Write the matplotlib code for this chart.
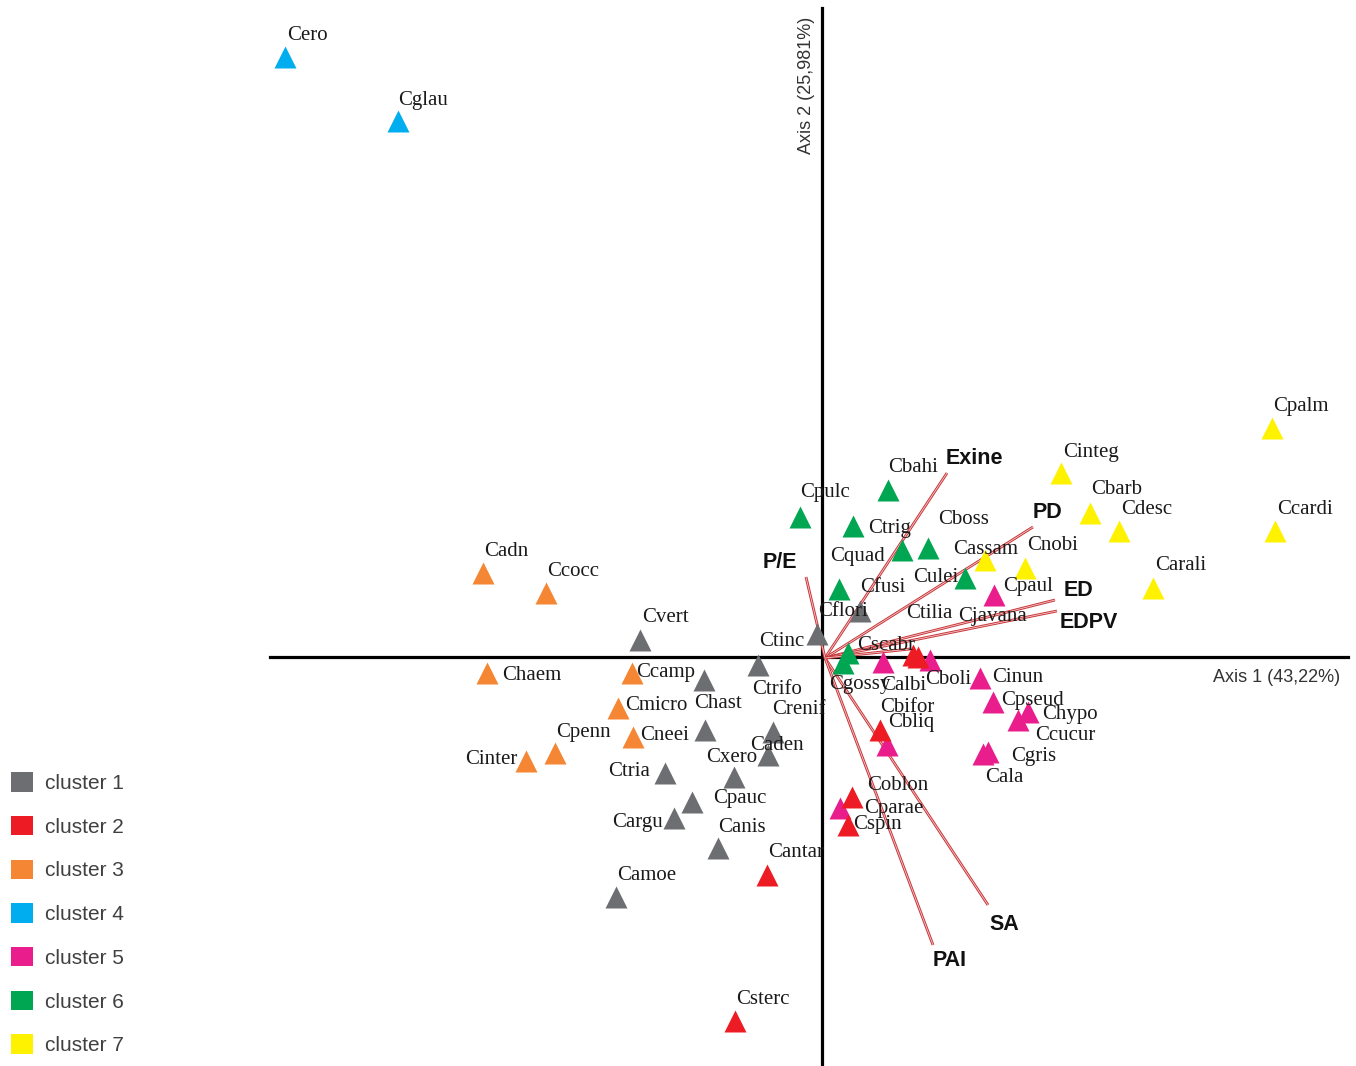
import matplotlib
matplotlib.use('Agg')
import matplotlib.pyplot as plt
from matplotlib.patches import Patch

# PCA scores (axis units)
names = ['Cero', 'Cglau',
         'Cpalm', 'Ccardi', 'Cinteg', 'Cbarb', 'Cdesc', 'Carali', 'Cnobi', 'Cassam',
         'Cbahi', 'Cpulc', 'Ctrig', 'Cquad', 'Cboss', 'Cfusi', 'Culei', 'Cscabr', 'Cgossy',
         'Cpaul', 'Calbi', 'Cboli', 'Cinun', 'Cpseud', 'Chypo', 'Ccucur', 'Cbliq', 'Cgris', 'Cala', 'Cparae',
         'Ctilia', 'Cjavana', 'Cbifor', 'Coblon', 'Cspin', 'Cantar', 'Csterc',
         'Cvert', 'Ctinc', 'Cflori', 'Ctrifo', 'Chast', '', 'Crenif', 'Caden', 'Ctria', 'Cxero',
         'Cpauc', 'Cargu', 'Canis', 'Camoe',
         'Cadn', 'Ccocc', 'Chaem', 'Ccamp', 'Cmicro', 'Cneei', 'Cpenn', 'Cinter']
cluster = [4, 4,
           7, 7, 7, 7, 7, 7, 7, 7,
           6, 6, 6, 6, 6, 6, 6, 6, 6,
           5, 5, 5, 5, 5, 5, 5, 5, 5, 5, 5,
           2, 2, 2, 2, 2, 2, 2,
           1, 1, 1, 1, 1, 1, 1, 1, 1, 1,
           1, 1, 1, 1,
           3, 3, 3, 3, 3, 3, 3, 3]
x = [-5.37, -4.24,
     4.50, 4.53, 2.39, 2.68, 2.97, 3.31, 2.03, 1.63,
     0.66, -0.22, 0.31, 0.80, 1.06, 0.17, 1.43, 0.26, 0.21,
     1.72, 0.61, 1.08, 1.58, 1.71, 2.06, 1.96, 0.65, 1.66, 1.61, 0.18,
     0.91, 0.96, 0.58, 0.30, 0.26, -0.55, -0.87,
     -1.82, -0.05, 0.38, -0.64, -1.18, -1.17, -0.49, -0.54, -1.57, -0.88,
     -1.30, -1.48, -1.04, -2.06,
     -3.39, -2.76, -3.35, -1.90, -2.04, -1.89, -2.67, -2.96]
y = [6.00, 5.36,
     2.29, 1.26, 1.84, 1.44, 1.26, 0.69, 0.89, 0.97,
     1.67, 1.40, 1.31, 1.07, 1.09, 0.68, 0.79, 0.04, -0.06,
     0.62, -0.05, -0.03, -0.21, -0.45, -0.55, -0.63, -0.88, -0.95, -0.97, -1.51,
     0.02, 0.00, -0.73, -1.40, -1.68, -2.18, -3.64,
     0.17, 0.23, 0.46, -0.08, -0.23, -0.73, -0.75, -0.98, -1.16, -1.20,
     -1.45, -1.61, -1.91, -2.40,
     0.84, 0.64, -0.16, -0.16, -0.51, -0.80, -0.96, -1.04]

# variable loadings
var_names = ['Exine', 'PD', 'ED', 'EDPV', 'P/E', 'SA', 'PAI', '']
var_x = [1.25, 2.11, 2.33, 2.35, -0.16, 1.66, 1.11, 0.88]
var_y = [1.84, 1.30, 0.57, 0.46, 0.80, -2.48, -2.88, 0.08]

colors = {1: '#6d6e71', 2: '#ed1c24', 3: '#f58634', 4: '#00aeef',
          5: '#e91e8c', 6: '#00a651', 7: '#fff200'}

# label offsets (left edge / vertical centre), in axis units
lab_off = {
    'Cero': (0.02, 0.22), 'Cglau': (0.0, 0.21), 'Cpalm': (0.01, 0.22), 'Ccardi': (0.02, 0.22),
    'Cinteg': (0.02, 0.21), 'Cbarb': (0.01, 0.23), 'Cdesc': (0.02, 0.21), 'Carali': (0.02, 0.22),
    'Cnobi': (0.02, 0.23), 'Cassam': (-0.32, 0.10), 'Cbahi': (0.0, 0.23), 'Cpulc': (0.0, 0.24),
    'Ctrig': (0.15, -0.03), 'Cquad': (-0.72, -0.07), 'Cboss': (0.10, 0.28), 'Cfusi': (0.21, 0.01),
    'Culei': (-0.52, 0.0), 'Cscabr': (0.09, 0.08), 'Cgossy': (-0.14, -0.22), 'Cpaul': (0.09, 0.08),
    'Calbi': (-0.02, -0.23), 'Cboli': (-0.05, -0.20), 'Cinun': (0.12, 0.0), 'Cpseud': (0.08, 0.01),
    'Chypo': (0.14, -0.03), 'Ccucur': (0.17, -0.15), 'Cbliq': (0.01, 0.23), 'Cgris': (0.23, -0.05),
    'Cala': (0.02, -0.24), 'Cparae': (0.24, 0.0), 'Ctilia': (-0.07, 0.42), 'Cjavana': (0.40, 0.40),
    'Cbifor': (0.0, 0.23), 'Coblon': (0.15, 0.11), 'Cspin': (0.05, 0.01), 'Cantar': (0.01, 0.23),
    'Csterc': (0.01, 0.21), 'Cvert': (0.02, 0.22), 'Ctinc': (-0.58, -0.08), 'Cflori': (-0.42, -0.01),
    'Ctrifo': (-0.06, -0.25), 'Chast': (-0.10, -0.24), 'Crenif': (-0.01, 0.23), 'Caden': (-0.18, 0.09),
    'Ctria': (-0.57, 0.01), 'Cxero': (-0.28, 0.19), 'Cpauc': (0.21, 0.03), 'Cargu': (-0.62, -0.04),
    'Canis': (0.0, 0.21), 'Camoe': (0.01, 0.21), 'Cadn': (0.01, 0.22), 'Ccocc': (0.01, 0.21),
    'Chaem': (0.15, -0.03), 'Ccamp': (0.04, 0.01), 'Cmicro': (0.07, 0.02), 'Cneei': (0.07, 0.01),
    'Cpenn': (0.01, 0.20), 'Cinter': (-0.61, 0.01),
}
var_lab = {'Exine': (946, 459), 'PD': (1033, 512), 'ED': (1064, 590), 'EDPV': (1060, 623),
           'P/E': (763, 562), 'SA': (989, 925), 'PAI': (933, 960)}

W, H = 1356, 1066
ox, oy = 822, 657  # pixel position of the origin

fig = plt.figure(figsize=(W / 100, H / 100), dpi=100)
ax = fig.add_axes([0, 0, 1, 1])
ax.set_xlim(-ox / 100, (W - ox) / 100)
ax.set_ylim(-(H - oy) / 100, oy / 100)
ax.axis('off')

# axes cross
ax.plot([(270 - ox) / 100, (1348 - ox) / 100], [0, 0], color='black', lw=2.3, zorder=2)
ax.plot([0, 0], [(oy - 1066) / 100, (oy - 8) / 100], color='black', lw=2.3, zorder=2)

# loading vectors
for vx, vy in zip(var_x, var_y):
    ax.plot([0.03, vx], [-0.01, vy], color='#c8363a', lw=2.0, zorder=3, solid_capstyle='butt')
    ax.plot([0.03, vx], [-0.01, vy], color='#f4c8c8', lw=0.6, zorder=3, solid_capstyle='butt')
for nm in var_names:
    if nm:
        px, py = var_lab[nm]
        ax.text((px - ox) / 100, (oy - py) / 100, nm, fontsize=15.5, fontweight='bold',
                family='Liberation Sans', ha='left', va='center', color='#111111', zorder=5)

# species scores
for nm, c, xi, yi in zip(names, cluster, x, y):
    ax.plot(xi, yi, marker='^', ms=16, color=colors[c], mec='none', zorder=4)
    if nm:
        dx, dy = lab_off[nm]
        ax.text(xi + dx, yi + dy, nm, fontsize=15, family='Liberation Serif',
                ha='left', va='center', color='#1a1a1a', zorder=5)

ax.text((1340 - ox) / 100, (oy - 678) / 100, 'Axis 1 (43,22%)', fontsize=13,
        family='Liberation Sans', ha='right', va='center', color='#333333')
ax.text((806 - ox) / 100, (oy - 85) / 100, 'Axis 2 (25,981%)', fontsize=13,
        family='Liberation Sans', ha='center', va='center', rotation=90, color='#333333')

handles = [Patch(facecolor=colors[k], edgecolor='none', label=f'cluster {k}') for k in range(1, 8)]
fig.legend(handles=handles, loc='upper left', bbox_to_anchor=(3 / W, 1 - 764 / H), frameon=False,
           handlelength=1.05, handleheight=1.05, labelspacing=1.1,
           handletextpad=0.55, borderaxespad=0, borderpad=0.4,
           prop={'family': 'Liberation Sans', 'size': 15}, labelcolor='#404040')

fig.savefig('out.png', dpi=100)
